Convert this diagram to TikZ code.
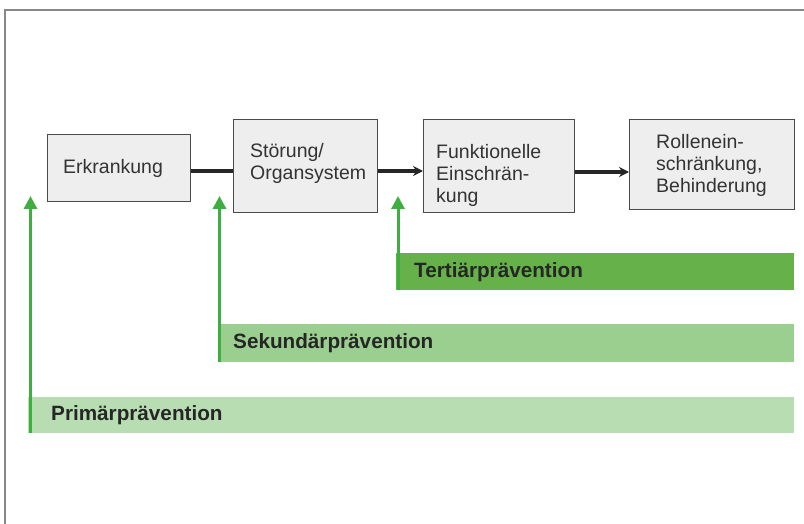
\documentclass[tikz,border=0pt]{standalone}
\usepackage{fontspec}
\setmainfont{Liberation Sans}
\usetikzlibrary{arrows.meta}
\definecolor{boxfill}{HTML}{EEEEEE}
\definecolor{boxline}{HTML}{4A4A4A}
\definecolor{txt}{HTML}{333333}
\definecolor{bartxt}{HTML}{262626}
\definecolor{tert}{HTML}{66B14A}
\definecolor{sek}{HTML}{9BCF8F}
\definecolor{prim}{HTML}{B9DDB3}
\definecolor{arrowgreen}{HTML}{3DAE3F}
\definecolor{framegray}{HTML}{888888}
\begin{document}
\begin{tikzpicture}[x=1pt,y=-1pt,
  stagebox/.style={draw=boxline, line width=1.1pt, fill=boxfill, anchor=north west, inner sep=0pt},
  stagetext/.style={anchor=west, align=left, inner sep=0pt, text=txt,
    font=\fontsize{19.5}{22}\selectfont},
  bar/.style={anchor=north west, inner sep=0pt, draw=none},
  barlabel/.style={anchor=west, inner sep=0pt, text=bartxt,
    font=\fontsize{20.7}{24}\selectfont\bfseries},
  flowline/.style={line width=3.4pt, draw=black!85},
  flow/.style={flowline, -{Stealth[length=10pt,width=10pt]}},
  lift/.style={line width=3pt, draw=arrowgreen, -{Triangle[length=13pt,width=13pt]}}]
\useasboundingbox (0,0) rectangle (804,524);
\fill[white] (0,0) rectangle (804,524);
% outer frame (only top and left edges fall inside the page)
\draw[framegray, line width=1.5pt] (5,524) -- (5,10) -- (804,10);

% stages
\node[stagebox, minimum width=143pt, minimum height=67pt] (erk) at (47,134) {};
\node[stagebox, minimum width=144pt, minimum height=93pt] (stoer) at (233,119) {};
\node[stagebox, minimum width=151pt, minimum height=93pt] (funk) at (423,119) {};
\node[stagebox, minimum width=165pt, minimum height=90pt] (rolle) at (629,119) {};

\node[stagetext] (erkT) at (63,168) {Erkrankung};
\node[stagetext] (stoerT) at (250,163) {Störung/\\Organsystem};
\node[stagetext] (funkT) at (436,175) {Funktionelle\\Einschrän-\\kung};
\node[stagetext] (rolleT) at (656,165) {Rollenein-\\schränkung,\\Behinderung};

% flow between stages
\coordinate (lvlA) at (0,171);
\coordinate (lvlB) at (0,172);
\draw[flowline] (erk.east |- lvlA) -- (stoer.west |- lvlA);
\draw[flow] (stoer.east |- lvlA) -- (funk.west |- lvlA);
\draw[flow] (funk.east |- lvlB) -- (rolle.west |- lvlB);

% prevention bars
\node[bar, fill=tert, minimum width=398pt, minimum height=37pt] (tbar) at (396,253) {};
\node[bar, fill=sek, minimum width=576pt, minimum height=38pt] (sbar) at (218,324) {};
\node[bar, fill=prim, minimum width=766pt, minimum height=36pt] (pbar) at (28,397) {};

\node[barlabel] (tlab) at (414,272) {Tertiärprävention};
\node[barlabel] (slab) at (233,343) {Sekundärprävention};
\node[barlabel] (plab) at (51,415) {Primärprävention};

% arrows rising from each bar
\coordinate (tip) at (0,196);
\draw[lift] ([xshift=2pt]tbar.south west) -- ([xshift=2pt]tbar.south west |- tip);
\draw[lift] ([xshift=1.5pt]sbar.south west) -- ([xshift=1.5pt]sbar.south west |- tip);
\draw[lift] ([xshift=2.5pt]pbar.south west) -- ([xshift=2.5pt]pbar.south west |- tip);
\end{tikzpicture}
\end{document}
